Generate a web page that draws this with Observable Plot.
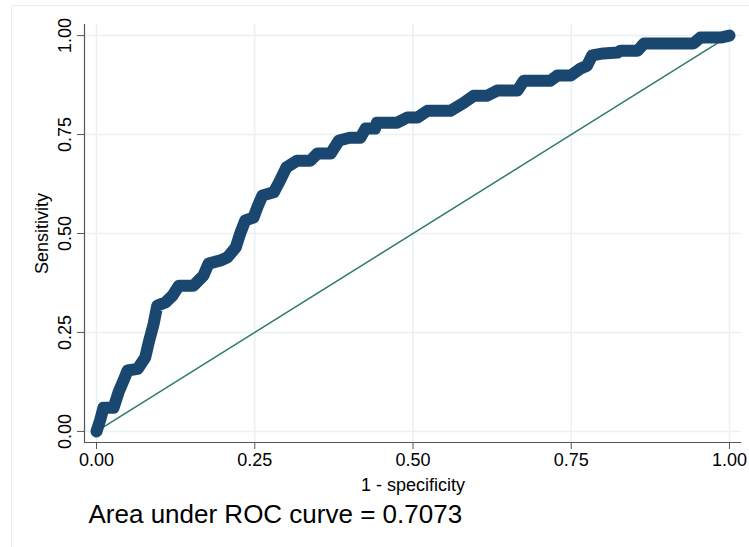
<!DOCTYPE html>
<html>
<head>
<meta charset="utf-8">
<script src="https://cdn.jsdelivr.net/npm/d3@7"></script>
<script src="https://cdn.jsdelivr.net/npm/@observablehq/plot@0.6"></script>
<style>
  html, body { margin: 0; padding: 0; background: #fff; }
  #wrap { position: relative; width: 749px; height: 547px; overflow: hidden; }
  #region { position: absolute; left: 11px; top: 5px; width: 800px; height: 600px;
            border-left: 1px solid #e6eef1; border-top: 1px solid #e6eef1; box-sizing: border-box; }
  #chart { position: absolute; left: 0; top: 0; }
</style>
</head>
<body>
<div id="wrap"><div id="region"></div><div id="chart"></div></div>
<script>
// 1 - specificity (false positive rate)
const fpr = [0, 0.006, 0.011, 0.027, 0.035, 0.043, 0.049, 0.065, 0.077, 0.082, 0.09, 0.096, 0.109, 0.12, 0.13, 0.153,
  0.169, 0.177, 0.196, 0.207, 0.22, 0.227, 0.235, 0.248, 0.254, 0.262, 0.28, 0.29, 0.30, 0.317, 0.338, 0.349,
  0.37, 0.383, 0.40, 0.417, 0.425, 0.44, 0.443, 0.475, 0.491, 0.507, 0.523, 0.559, 0.58, 0.596, 0.617, 0.633,
  0.665, 0.675, 0.717, 0.728, 0.749, 0.765, 0.775, 0.783, 0.801, 0.823, 0.828, 0.855, 0.865, 0.943, 0.954, 0.986, 1];
// Sensitivity (true positive rate)
const tpr = [0, 0.03, 0.06, 0.06, 0.10, 0.13, 0.154, 0.158, 0.187, 0.222, 0.27, 0.318, 0.326, 0.343, 0.368, 0.368,
  0.394, 0.424, 0.432, 0.44, 0.465, 0.5, 0.533, 0.54, 0.566, 0.596, 0.604, 0.634, 0.667, 0.684, 0.684, 0.702,
  0.702, 0.735, 0.742, 0.742, 0.765, 0.765, 0.78, 0.78, 0.793, 0.793, 0.81, 0.81, 0.83, 0.848, 0.848, 0.861,
  0.861, 0.886, 0.886, 0.899, 0.899, 0.917, 0.924, 0.95, 0.955, 0.957, 0.962, 0.962, 0.98, 0.98, 0.995, 0.995, 1];
const refX = [0, 1];
const refY = [0, 1];
const xTicks = [0, 0.25, 0.5, 0.75, 1];
const yTicks = [0, 0.25, 0.5, 0.75, 1];
const xLabel = "1 - specificity";
const yLabel = "Sensitivity";
const note = "Area under ROC curve = 0.7073";

const curve = fpr.map((x, i) => ({x, y: tpr[i]}));
const ref = refX.map((x, i) => ({x, y: refY[i]}));

const xDom = [-0.019, 1.019];
const yDom = [-0.028, 1.028];
const font = "Liberation Sans, Helvetica, Arial, sans-serif";

const chart = Plot.plot({
  width: 749,
  height: 547,
  marginLeft: 84,
  marginRight: 8,
  marginTop: 24,
  marginBottom: 105,
  style: {fontFamily: font, background: "transparent", color: "#000"},
  x: {domain: xDom},
  y: {domain: yDom},
  marks: [
    Plot.ruleY(yTicks, {stroke: "#e9f1f3", strokeWidth: 1.5}),
    Plot.ruleX(xTicks, {stroke: "#e9f1f3", strokeWidth: 1.5}),
    Plot.ruleX([xDom[0]], {stroke: "#555", strokeWidth: 1.2}),
    Plot.ruleY([yDom[0]], {stroke: "#555", strokeWidth: 1.2}),
    Plot.axisX({ticks: xTicks, tickFormat: d3.format(".2f"), tickSize: 7, tickPadding: 4, fontSize: 18, stroke: "#555", label: null}),
    Plot.axisY({ticks: yTicks, tickFormat: d3.format(".2f"), tickSize: 7, tickPadding: 7, fontSize: 18, stroke: "#555",
      tickRotate: -90, textAnchor: "middle", lineAnchor: "bottom", label: null}),
    Plot.line(ref, {x: "x", y: "y", stroke: "#2f7a6a", strokeWidth: 1.5}),
    Plot.line(curve, {x: "x", y: "y", stroke: "#1a476f", strokeWidth: 12, strokeLinejoin: "round", strokeLinecap: "round"}),
    Plot.text([xLabel], {frameAnchor: "bottom", dy: 48, lineAnchor: "bottom", fontSize: 18, fill: "#000"}),
    Plot.text([yLabel], {frameAnchor: "left", dx: -42, rotate: -90, lineAnchor: "middle", textAnchor: "middle", fontSize: 18, fill: "#000"}),
    Plot.text([note], {frameAnchor: "bottom-left", dx: 4, dy: 80, lineAnchor: "bottom", textAnchor: "start", fontSize: 26, fill: "#000"})
  ]
});
document.getElementById("chart").appendChild(chart);
</script>
</body>
</html>
